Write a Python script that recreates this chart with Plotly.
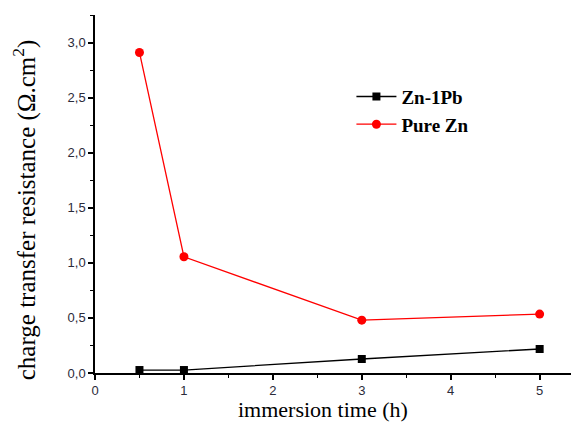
import plotly.graph_objects as go

time_h = [0.5, 1, 3, 5]
zn_1pb = [0.027, 0.027, 0.127, 0.218]
pure_zn = [2.91, 1.055, 0.48, 0.535]

fig = go.Figure()
fig.add_trace(go.Scatter(
    x=time_h, y=zn_1pb, name="Zn-1Pb", mode="lines+markers",
    line=dict(color="black", width=1.3),
    marker=dict(symbol="square", size=8, color="black"),
))
fig.add_trace(go.Scatter(
    x=time_h, y=pure_zn, name="Pure Zn", mode="lines+markers",
    line=dict(color="red", width=1.3),
    marker=dict(symbol="circle", size=9, color="red"),
))

tickfont = dict(family="Liberation Sans, Arial", size=13, color="#2b2b3a")
serif = "Liberation Serif, Times New Roman"

fig.update_layout(
    width=571, height=420,
    margin=dict(l=87, r=2, t=7, b=55),
    paper_bgcolor="white", plot_bgcolor="white",
    separators=", ",
    showlegend=True,
    legend=dict(
        x=0.532, y=0.825, xanchor="left", yanchor="top",
        bgcolor="rgba(0,0,0,0)",
        font=dict(family=serif, size=19, color="black", weight="bold"),
        tracegroupgap=0, itemwidth=40,
    ),
    xaxis=dict(
        range=[0, 5.42], showgrid=False, zeroline=False,
        showline=True, linecolor="black", linewidth=1.5,
        ticks="outside", tickcolor="black", ticklen=5, tickwidth=1.5,
        tickmode="array", tickvals=[0, 1, 2, 3, 4, 5], ticktext=["0", "1", "2", "3", "4", "5"],
        minor=dict(ticks="outside", ticklen=3, tickcolor="black", tickwidth=1.2, dtick=0.5),
        tickfont=tickfont,
    ),
    yaxis=dict(
        range=[0, 3.25], showgrid=False, zeroline=False,
        showline=True, linecolor="black", linewidth=1.5,
        ticks="outside", tickcolor="black", ticklen=5, tickwidth=1.5,
        tickvals=[0, 0.5, 1, 1.5, 2, 2.5, 3],
        ticktext=["0,0", "0,5", "1,0", "1,5", "2,0", "2,5", "3,0"],
        minor=dict(ticks="outside", ticklen=3, tickcolor="black", tickwidth=1.2, dtick=0.25),
        tickfont=tickfont,
    ),
    annotations=[
        dict(text="immersion time (h)", xref="paper", yref="paper",
             x=0.473, y=-0.103, xanchor="center", yanchor="middle", showarrow=False,
             font=dict(family=serif, size=22, color="black")),
        dict(text="charge transfer resistance (Ω.cm<sup>2</sup>)", xref="paper", yref="paper",
             x=-0.147, y=0.455, xanchor="center", yanchor="middle", showarrow=False,
             textangle=-90, font=dict(family=serif, size=25, color="black")),
    ],
)

fig.write_html("out.html")
